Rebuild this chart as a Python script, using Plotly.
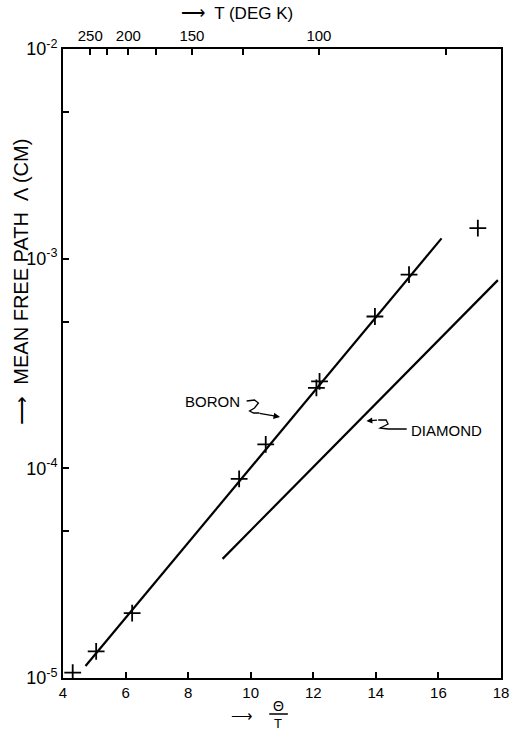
import plotly.graph_objects as go

# ---- data ----
boron_x = [4.31, 5.06, 6.21, 9.63, 10.48, 12.1, 12.2, 13.97, 15.06, 17.26]
boron_y = [1.06e-5, 1.34e-5, 2.04e-5, 8.9e-5, 1.3e-4, 2.42e-4, 2.6e-4, 5.3e-4, 8.4e-4, 1.4e-3]

boron_fit_x = [4.72, 16.1]
boron_fit_y = [1.14e-5, 1.25e-3]

diamond_x = [9.1, 17.9]
diamond_y = [3.7e-5, 7.9e-4]

theta = 1218.0  # Debye temperature used for the top T scale
top_T_major = [250, 200, 150, 100]
top_T_minor = [225, 175, 125, 75]

x_ticks = [4, 6, 8, 10, 12, 14, 16, 18]
y_major = [1e-5, 1e-4, 1e-3, 1e-2]
y_major_text = ["10<sup>-5</sup>", "10<sup>-4</sup>", "10<sup>-3</sup>", "10<sup>-2</sup>"]
y_minor = [5e-5, 5e-4, 5e-3]

# ---- layout geometry (pixels) ----
W, H = 520, 732
L, R, T, B = 63, 11, 49, 54
pw, ph = W - L - R, H - T - B


def px(xp):
    return (xp - L) / pw


def py(yp):
    return (H - B - yp) / ph


FONT = "Liberation Sans"

fig = go.Figure()

fig.add_trace(go.Scatter(x=boron_fit_x, y=boron_fit_y, mode="lines",
                         line=dict(color="black", width=2.2), showlegend=False))
fig.add_trace(go.Scatter(x=diamond_x, y=diamond_y, mode="lines",
                         line=dict(color="black", width=2.2), showlegend=False))
fig.add_trace(go.Scatter(x=boron_x, y=boron_y, mode="markers",
                         marker=dict(symbol="cross-thin", size=12,
                                     line=dict(width=1.8, color="black")),
                         showlegend=False))
# invisible trace to activate the top axis
fig.add_trace(go.Scatter(x=[4, 18], y=[1e-5, 1e-5], xaxis="x2", mode="lines",
                         line=dict(width=0), hoverinfo="skip", showlegend=False))

top_vals = [theta / t for t in top_T_major] + [theta / t for t in top_T_minor]
top_text = [str(t) for t in top_T_major] + ["" for _ in top_T_minor]

fig.update_layout(
    width=W, height=H,
    margin=dict(l=L, r=R, t=T, b=B, pad=0),
    paper_bgcolor="white", plot_bgcolor="white",
    font=dict(family=FONT, color="black", size=13),
    xaxis=dict(range=[4, 18], tickvals=x_ticks, ticktext=[str(v) for v in x_ticks],
               ticks="inside", ticklen=6, tickwidth=1.5, tickcolor="black",
               showline=True, linecolor="black", linewidth=2, showgrid=False,
               zeroline=False, tickfont=dict(size=15, family=FONT)),
    xaxis2=dict(range=[4, 18], overlaying="x", side="top", tickvals=top_vals,
                ticktext=top_text, ticks="inside", ticklen=6, tickwidth=1.5,
                tickcolor="black", showline=True, linecolor="black", linewidth=2,
                showgrid=False, zeroline=False, tickfont=dict(size=15, family=FONT)),
    yaxis=dict(type="log", range=[-5, -2],
               tickvals=y_major + y_minor,
               ticktext=y_major_text + ["" for _ in y_minor],
               ticks="inside", ticklen=6, tickwidth=1.5, tickcolor="black",
               showline=True, linecolor="black", linewidth=2, mirror=True,
               showgrid=False, zeroline=False, tickfont=dict(size=18, family=FONT)),
)


def txt(x, y, text, size, angle=0):
    return dict(xref="paper", yref="paper", x=px(x), y=py(y), text=text,
                showarrow=False, xanchor="center", yanchor="middle",
                textangle=angle, font=dict(size=size))


ann = [
    # axis titles
    txt(240, 14, "⟶  T (DEG K)", 17),
    txt(20, 282, "⟶  MEAN FREE PATH  Λ (CM)", 20, -90),
    txt(245, 715, "⟶", 15),
    txt(282, 706, "Θ", 14),
    txt(282, 723, "T", 13),
    # series labels
    txt(215, 401, "BORON", 15),
    txt(453, 431, "DIAMOND", 15),
    # arrow heads
    dict(xref="paper", yref="paper", x=px(284), y=py(417), text="",
         showarrow=True, ax=-22, ay=-4, arrowhead=2, arrowsize=1,
         arrowwidth=1.3, arrowcolor="black"),
    dict(xref="paper", yref="paper", x=px(372), y=py(421), text="",
         showarrow=True, ax=12, ay=-1, arrowhead=2, arrowsize=0.9,
         arrowwidth=1.3, arrowcolor="black"),
]
fig.update_layout(annotations=ann)


def pth(points):
    s = "M {} {}".format(px(points[0][0]), py(points[0][1]))
    for p in points[1:]:
        s += " L {} {}".format(px(p[0]), py(p[1]))
    return s


shapes = [
    # fraction bar
    dict(type="line", xref="paper", yref="paper", x0=px(273), x1=px(292),
         y0=py(714), y1=py(714), line=dict(color="black", width=1.5)),
    # boron squiggle
    dict(type="path", xref="paper", yref="paper",
         path=pth([(250, 401), (258, 400), (262, 403), (258, 408), (253, 411),
                   (257, 413), (263, 413)]),
         line=dict(color="black", width=1.3)),
    # diamond squiggle + leader
    dict(type="path", xref="paper", yref="paper",
         path=pth([(384, 420), (392, 420), (394, 424), (386, 428), (394, 429),
                   (413, 429)]),
         line=dict(color="black", width=1.3)),
]
fig.update_layout(shapes=shapes)

fig.write_html("out.html",
               config={"displayModeBar": False},
               post_script="document.body.style.margin='0';"
                           "document.body.style.overflow='hidden';")
